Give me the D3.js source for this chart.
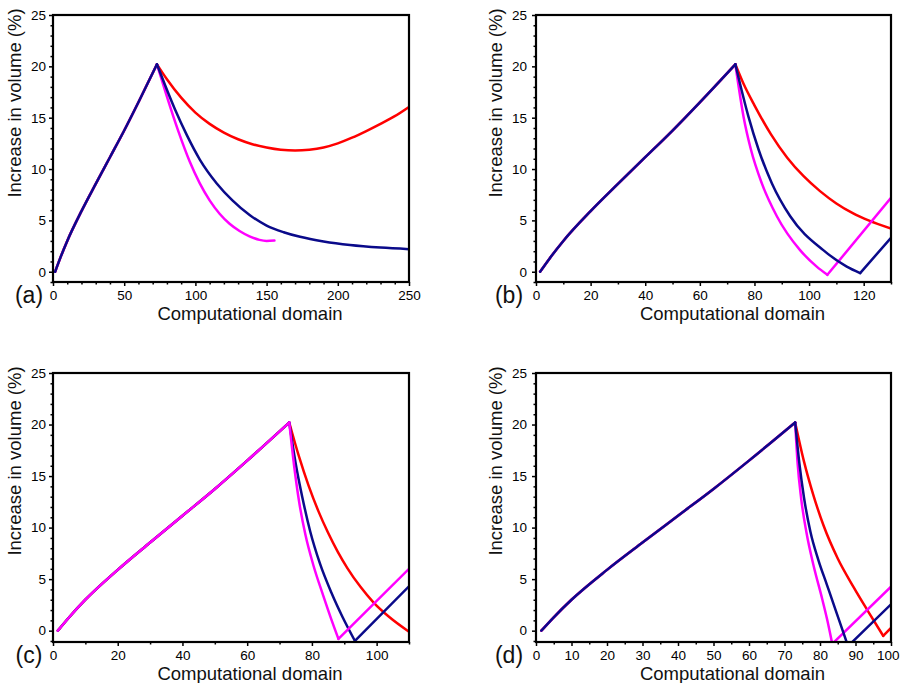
<!DOCTYPE html>
<html>
<head>
<meta charset="utf-8">
<script src="https://cdn.jsdelivr.net/npm/d3@7"></script>
<style>
  body { margin: 0; background: #fff; }
  svg { display: block; font-family: "Liberation Sans", Arial, sans-serif; }
</style>
</head>
<body>
<svg id="chart" width="900" height="683"></svg>
<script>
// ---------- data ----------
const yTicks = [0, 5, 10, 15, 20, 25];
const panelLabels = ["(a)", "(b)", "(c)", "(d)"];
const xMax = [250, 130, 110, 100];
const xMajorStep = [50, 20, 20, 10];
const xMinorStep = [10, 10, 10, 5];

// shared loading (rising) branch
const riseX = [1.5, 5, 10, 20, 30, 40, 50, 60, 73];
const riseY = [0, 1.3, 3.0, 5.9, 8.55, 11.15, 13.75, 16.5, 20.2];

// panel (a)
const aRedX = [73, 80, 90, 100, 110, 120, 130, 140, 150, 160, 170, 180, 190, 200, 210, 220, 230, 240, 250];
const aRedY = [20.2, 18.75, 16.95, 15.5, 14.4, 13.55, 12.9, 12.42, 12.1, 11.88, 11.8, 11.88, 12.1, 12.5, 13.05, 13.7, 14.4, 15.15, 16.05];
const aBlueX = [73, 85.7, 94, 103.2, 115, 126, 138.3, 150, 162, 173.5, 190, 208.6, 230, 250];
const aBlueY = [20.2, 15.8, 13.3, 10.9, 8.6, 6.95, 5.5, 4.5, 3.85, 3.4, 2.95, 2.6, 2.35, 2.2];
const aMagX = [73, 80, 88, 96, 103, 110, 117, 124, 131, 138, 145, 150, 155.5];
const aMagY = [20.2, 17.05, 13.69, 10.73, 8.63, 6.95, 5.65, 4.67, 3.97, 3.45, 3.1, 3.0, 3.03];

// panel (b)
const bRedX = [73, 76, 80, 86, 92, 98, 104, 110, 116, 122, 130];
const bRedY = [20.2, 18.3, 16.2, 13.4, 11.1, 9.3, 7.85, 6.65, 5.7, 4.97, 4.2];
const bBlueX = [73, 77.8, 81.5, 86.4, 93.1, 105.2, 113.8, 118.7];
const bBlueY = [20.2, 15.1, 11.9, 8.6, 5.4, 2.1, 0.5, -0.13];
const bBlueReX = [118.7, 130];
const bBlueReY = [-0.13, 3.3];
const bMagX = [73, 76, 78.7, 82.7, 88.2, 96.7, 102.8, 106.7];
const bMagY = [20.2, 15.1, 11.9, 8.6, 5.4, 2.1, 0.5, -0.3];
const bMagReX = [106.7, 130];
const bMagReY = [-0.3, 7.2];

// panel (c)
const cRedX = [73, 76, 79, 82, 85, 88, 91, 95, 99, 104, 110];
const cRedY = [20.2, 16.9, 14.05, 11.6, 9.5, 7.65, 6.05, 4.25, 2.75, 1.3, -0.1];
const cBlueX = [73, 75, 77, 79.5, 82.5, 86, 89.5, 93.3];
const cBlueY = [20.2, 16.2, 13.0, 9.6, 6.5, 3.7, 1.3, -1.0];
const cBlueReX = [93.3, 110];
const cBlueReY = [-1.0, 4.3];
const cMagX = [73, 74.5, 76, 78, 80.5, 83.5, 86, 88.2];
const cMagY = [20.2, 16.0, 12.6, 9.3, 6.3, 3.4, 1.1, -0.8];
const cMagReX = [88.2, 110];
const cMagReY = [-0.8, 6.0];

// panel (d)
const dRedX = [73, 75.5, 78, 81, 85, 89.5, 93.5, 97.8];
const dRedY = [20.2, 16.4, 13.3, 10.2, 7.0, 4.2, 1.9, -0.5];
const dRedReX = [97.8, 100];
const dRedReY = [-0.5, 0.27];
const dBlueX = [73, 74.2, 75.5, 77.3, 79.5, 82, 84.5, 87.9];
const dBlueY = [20.2, 16.2, 12.9, 9.6, 6.9, 4.4, 1.9, -1.5];
const dBlueReX = [87.9, 100];
const dBlueReY = [-1.5, 2.55];
const dMagX = [73, 73.7, 74.7, 76.2, 78.2, 80.6, 82, 83.45];
const dMagY = [20.2, 16.2, 12.8, 9.5, 6.3, 3.1, 1.1, -1.28];
const dMagReX = [83.45, 100];
const dMagReY = [-1.28, 4.27];

// ---------- styling / layout ----------
const RED = "#ff0000", BLUE = "#0a0a8a", MAG = "#ff00ff";
const zip = (xs, ys) => xs.map((x, i) => [x, ys[i]]);

const layout = [
  { l: 53, r: 409, t: 15, b: 282, yMin: -1 },
  { l: 536, r: 891, t: 15, b: 282, yMin: -1 },
  { l: 53, r: 409, t: 373, b: 642, yMin: -1.1 },
  { l: 536, r: 891, t: 373, b: 642, yMin: -1.1 }
];

// series per panel: [color, [segments...]] in draw order
const panels = [
  [
    [RED, [zip(riseX, riseY), zip(aRedX, aRedY)]],
    [MAG, [zip(riseX, riseY), zip(aMagX, aMagY)]],
    [BLUE, [zip(riseX, riseY), zip(aBlueX, aBlueY)]]
  ],
  [
    [RED, [zip(riseX, riseY), zip(bRedX, bRedY)]],
    [MAG, [zip(riseX, riseY), zip(bMagX, bMagY), zip(bMagReX, bMagReY)]],
    [BLUE, [zip(riseX, riseY), zip(bBlueX, bBlueY), zip(bBlueReX, bBlueReY)]]
  ],
  [
    [RED, [zip(riseX, riseY), zip(cRedX, cRedY)]],
    [BLUE, [zip(riseX, riseY), zip(cBlueX, cBlueY), zip(cBlueReX, cBlueReY)]],
    [MAG, [zip(riseX, riseY), zip(cMagX, cMagY), zip(cMagReX, cMagReY)]]
  ],
  [
    [RED, [zip(riseX, riseY), zip(dRedX, dRedY), zip(dRedReX, dRedReY)]],
    [MAG, [zip(riseX, riseY), zip(dMagX, dMagY), zip(dMagReX, dMagReY)]],
    [BLUE, [zip(riseX, riseY), zip(dBlueX, dBlueY), zip(dBlueReX, dBlueReY)]]
  ]
];

const svg = d3.select("#chart");

panels.forEach((series, pi) => {
  const L = layout[pi];
  const x = d3.scaleLinear().domain([0, xMax[pi]]).range([L.l, L.r]);
  const y = d3.scaleLinear().domain([L.yMin, 25]).range([L.b, L.t]);
  const g = svg.append("g");

  const clipId = "clip" + pi;
  svg.append("clipPath").attr("id", clipId)
    .append("rect").attr("x", L.l).attr("y", L.t)
    .attr("width", L.r - L.l).attr("height", L.b - L.t);

  const lines = g.append("g").attr("clip-path", `url(#${clipId})`);
  const curveLine = d3.line().x(d => x(d[0])).y(d => y(d[1])).curve(d3.curveMonotoneX);
  const straightLine = d3.line().x(d => x(d[0])).y(d => y(d[1]));

  series.forEach(([color, segs]) => {
    segs.forEach(seg => {
      lines.append("path")
        .attr("d", seg.length > 2 ? curveLine(seg) : straightLine(seg))
        .attr("fill", "none")
        .attr("stroke", color)
        .attr("stroke-width", 2.5)
        .attr("stroke-linecap", "round")
        .attr("stroke-linejoin", "round");
    });
  });

  // axes
  const xMajor = d3.range(0, xMax[pi] + 0.001, xMajorStep[pi]);
  const xMinor = d3.range(0, xMax[pi] + 0.001, xMinorStep[pi]).filter(v => !xMajor.includes(v));
  const yMinor = d3.range(-1, 25.001, 1).filter(v => !yTicks.includes(v) && v >= L.yMin);

  const xAx = g.append("g").attr("transform", `translate(0,${L.b})`)
    .call(d3.axisBottom(x).tickValues(xMajor).tickSize(4).tickPadding(4).tickFormat(d3.format("d")));
  xAx.select(".domain").remove();
  xAx.selectAll(".tick line").attr("stroke-width", 1.5);
  xAx.selectAll("text").attr("font-size", "13.5px").attr("fill", "#000")
    .attr("font-family", "'Liberation Sans', Arial, sans-serif");
  // keep the last label of panel (d) inside the picture, as in the reference
  if (pi === 3) {
    xAx.selectAll(".tick").filter(d => d === xMax[pi]).select("text")
      .attr("text-anchor", "end").attr("x", 8);
  }

  const xAxMin = g.append("g").attr("transform", `translate(0,${L.b})`)
    .call(d3.axisBottom(x).tickValues(xMinor).tickSize(2.5).tickFormat(""));
  xAxMin.select(".domain").remove();
  xAxMin.selectAll(".tick line").attr("stroke-width", 1.5);

  const yAx = g.append("g").attr("transform", `translate(${L.l},0)`)
    .call(d3.axisLeft(y).tickValues(yTicks).tickSize(4).tickPadding(pi % 2 === 0 ? 3 : 5).tickFormat(d3.format("d")));
  yAx.select(".domain").remove();
  yAx.selectAll(".tick line").attr("stroke-width", 1.5);
  yAx.selectAll("text").attr("font-size", "13.5px").attr("fill", "#000")
    .attr("font-family", "'Liberation Sans', Arial, sans-serif");

  const yAxMin = g.append("g").attr("transform", `translate(${L.l},0)`)
    .call(d3.axisLeft(y).tickValues(yMinor).tickSize(2.5).tickFormat(""));
  yAxMin.select(".domain").remove();
  yAxMin.selectAll(".tick line").attr("stroke-width", 1.5);

  // frame
  g.append("rect")
    .attr("x", L.l).attr("y", L.t)
    .attr("width", L.r - L.l).attr("height", L.b - L.t)
    .attr("fill", "none").attr("stroke", "#000").attr("stroke-width", 2.2);

  // axis titles
  g.append("text")
    .attr("x", (L.l + L.r) / 2 + 19)
    .attr("y", L.b + 38)
    .attr("text-anchor", "middle")
    .attr("font-size", "18.5px")
    .attr("fill", "#111")
    .text("Computational domain");

  const ty = L.t + 88;
  const tx = pi % 2 === 0 ? 21 : 502;
  g.append("text")
    .attr("transform", `translate(${tx},${ty}) rotate(-90)`)
    .attr("text-anchor", "middle")
    .attr("font-size", "18.5px")
    .attr("fill", "#111")
    .text("Increase in volume (%)");

  // panel label
  g.append("text")
    .attr("x", pi % 2 === 0 ? 29 : 509)
    .attr("y", L.b + 21)
    .attr("text-anchor", "middle")
    .attr("font-size", "23px")
    .attr("fill", "#111")
    .text(panelLabels[pi]);
});
</script>
</body>
</html>
